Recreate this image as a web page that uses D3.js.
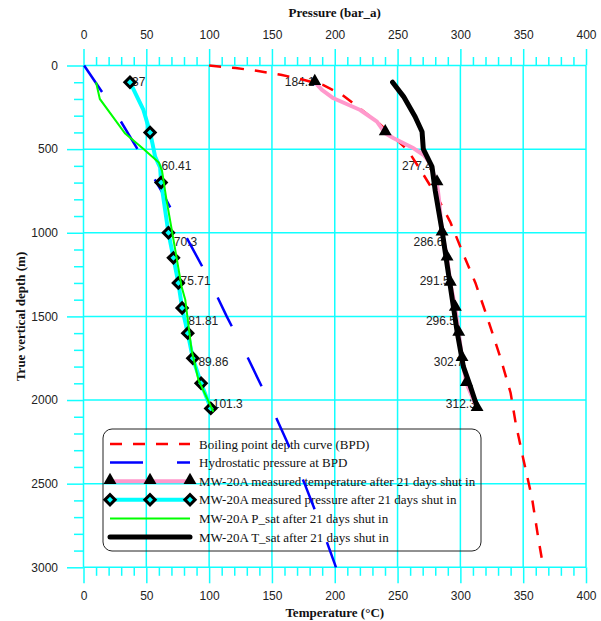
<!DOCTYPE html>
<html>
<head>
<meta charset="utf-8">
<script src="https://cdn.jsdelivr.net/npm/d3@7"></script>
<style>
  body { margin: 0; background: #fff; }
  svg { display: block; }
  .tick text { font-family: "Liberation Sans", Arial, sans-serif; font-size: 12px; fill: #222; }
  .title { font-family: "Liberation Serif", "Times New Roman", serif; font-weight: bold; font-size: 13px; fill: #111; }
  .dlabel { font-family: "Liberation Sans", Arial, sans-serif; font-size: 12px; fill: #222; }
  .legend text { font-family: "Liberation Serif", "Times New Roman", serif; font-size: 13px; fill: #111; }
</style>
</head>
<body>
<div id="chart"></div>
<script>
// axis ticks
const tempTicks = d3.range(0, 401, 50);
const tempMinor = d3.range(0, 401, 10).filter(v => v % 50 !== 0);
const depthTicks = d3.range(0, 3001, 500);
const depthMinor = d3.range(0, 3001, 100).filter(v => v % 500 !== 0);

// boiling point depth curve (temperature, depth)
const bpdDepth = [0, 15, 33, 55, 85, 117, 176, 263, 344, 505, 645, 792, 936, 1121, 1300, 1497, 1749, 1958, 2137, 2350, 2585, 2825, 3000];
const bpdTemp  = [100, 121, 139, 157, 175, 191, 206, 221, 235, 258, 270, 282, 292, 302, 312, 321, 332, 340, 344, 350, 357, 362, 366];

// hydrostatic pressure at BPD
const hydroDepth = [0, 250, 500, 750, 1000, 1250, 1500, 1750, 2000, 2250, 2500, 2750, 3000];
const hydroPres  = [0.5, 23, 43, 62, 80, 98, 114, 131, 147, 162, 176, 189, 201];

// measured points (markers)
const measDepth = [100, 400, 700, 1000, 1150, 1300, 1450, 1600, 1750, 1900, 2050];
const measTemp  = [184.1, 240.2, 281.4, 285.4, 289.4, 292, 296, 298.7, 301.3, 304.8, 313.3];
const measPres  = [37, 53, 61.8, 67.6, 71.6, 75.5, 78.5, 83, 87, 93.6, 101.3];

// measured temperature line
const tLineDepth = [100, 146, 196, 266, 336, 405, 435, 495, 535, 585, 665, 708, 800, 1000, 1150, 1300, 1450, 1600, 1750, 1900, 2050];
const tLineTemp  = [184.1, 189.8, 199, 220.3, 233.6, 240.2, 246.9, 262.8, 270.8, 276, 279.3, 281.4, 283, 285.4, 289.4, 292, 296, 298.7, 301.3, 304.8, 313.3];

// measured pressure line
const pLineDepth = [100, 266, 400, 470, 545, 610, 700, 1000, 1150, 1300, 1450, 1600, 1750, 1900, 2050];
const pLinePres  = [37, 47.7, 53, 55, 57, 61, 61.8, 67.6, 71.6, 75.5, 78.5, 83, 87, 93.6, 101.3];

// P_sat and T_sat
const psatDepth = [100, 200, 405, 500, 580, 630, 800, 1040, 1320, 1400, 1700, 1880, 2070];
const psatPres  = [10, 13, 33, 48, 60, 62.5, 66, 71.6, 78, 81, 86, 91.5, 103.4];
const tsatDepth = [100, 186, 306, 396, 500, 605, 750, 1000, 1200, 1400, 1600, 1800, 1920, 2045];
const tsatTemp  = [246, 254.8, 264, 269.5, 270.5, 277.4, 280, 285.7, 289.6, 293.6, 297.6, 302.4, 308, 313.5];

// data labels
const labelDepth = [100, 600, 1056, 1288, 1527, 1772, 2024];
const tempLabels = ["184.1", "277.4", "286.6", "291.5", "296.5", "302.7", "312.3"];
const presLabels = ["37", "60.41", "70.3", "75.71", "81.81", "89.86", "101.3"];

const legendItems = [
  "Boiling point depth curve (BPD)",
  "Hydrostatic pressure at BPD",
  "MW-20A measured temperature after 21 days shut in",
  "MW-20A measured pressure after 21 days shut in",
  "MW-20A P_sat after 21 days shut in",
  "MW-20A T_sat after 21 days shut in"
];

const W = 601, H = 621;
const GRID = "#1ff";
const x = d3.scaleLinear([0, 400], [83.5, 586]);
const y = d3.scaleLinear([0, 3000], [65.5, 567.3]);

const svg = d3.select("#chart").append("svg")
  .attr("width", W).attr("height", H);

// grid
const grid = svg.append("g");
grid.selectAll("line.v").data(tempTicks).join("line")
  .attr("x1", d => x(d)).attr("x2", d => x(d))
  .attr("y1", y(0)).attr("y2", y(3000))
  .attr("stroke", GRID).attr("stroke-width", 1.5);
grid.selectAll("line.h").data(depthTicks).join("line")
  .attr("x1", x(0)).attr("x2", x(400))
  .attr("y1", d => y(d)).attr("y2", d => y(d))
  .attr("stroke", GRID).attr("stroke-width", 1.5);

function styleAxis(g) {
  g.select(".domain").remove();
  g.selectAll(".tick line").attr("stroke", GRID).attr("stroke-width", 1.5);
}

svg.append("g").attr("transform", `translate(0,${y(0)})`)
  .call(d3.axisTop(x).tickValues(tempTicks).tickSize(16.5).tickPadding(10.5).tickFormat(d3.format("d")))
  .call(styleAxis);
svg.append("g").attr("transform", `translate(0,${y(0)})`)
  .call(d3.axisTop(x).tickValues(tempMinor).tickSize(8.5).tickFormat(""))
  .call(styleAxis);
svg.append("g").attr("transform", `translate(0,${y(3000)})`)
  .call(d3.axisBottom(x).tickValues(tempTicks).tickSize(16).tickPadding(8).tickFormat(d3.format("d")))
  .call(styleAxis);
svg.append("g").attr("transform", `translate(0,${y(3000)})`)
  .call(d3.axisBottom(x).tickValues(tempMinor).tickSize(8.5).tickFormat(""))
  .call(styleAxis);
svg.append("g").attr("transform", `translate(${x(0)},0)`)
  .call(d3.axisLeft(y).tickValues(depthTicks).tickSize(16.5).tickPadding(9).tickFormat(d3.format("d")))
  .call(styleAxis);
svg.append("g").attr("transform", `translate(${x(0)},0)`)
  .call(d3.axisLeft(y).tickValues(depthMinor).tickSize(9.5).tickFormat(""))
  .call(styleAxis);

// titles
svg.append("text").attr("class", "title")
  .attr("x", (x(0) + x(400)) / 2).attr("y", 17).attr("text-anchor", "middle")
  .text("Pressure (bar_a)");
svg.append("text").attr("class", "title")
  .attr("x", (x(0) + x(400)) / 2).attr("y", 617).attr("text-anchor", "middle")
  .text("Temperature (°C)");
svg.append("text").attr("class", "title")
  .attr("transform", `translate(25,${(y(0) + y(3000)) / 2}) rotate(-90)`)
  .attr("text-anchor", "middle")
  .text("True vertical depth (m)");

// data labels (drawn under the lines)
svg.append("g").selectAll("text").data(labelDepth).join("text")
  .attr("class", "dlabel")
  .attr("x", (d, i) => x(+tempLabels[i]))
  .attr("y", d => y(d)).attr("dy", "0.35em")
  .attr("text-anchor", "end")
  .text((d, i) => tempLabels[i]);
svg.append("g").selectAll("text").data(labelDepth).join("text")
  .attr("class", "dlabel")
  .attr("x", (d, i) => x(+presLabels[i]) + 2)
  .attr("y", d => y(d)).attr("dy", "0.35em")
  .text((d, i) => presLabels[i]);

// legend
const lg = svg.append("g").attr("class", "legend");
lg.append("rect").attr("x", 103).attr("y", 429).attr("width", 378).attr("height", 122)
  .attr("rx", 9).attr("fill", "none").attr("stroke", "#222").attr("stroke-width", 1);
const rowY = i => 444 + i * 18.6;
lg.selectAll("text").data(legendItems).join("text")
  .attr("x", 199).attr("y", (d, i) => rowY(i)).attr("dy", "0.35em")
  .text(d => d);

const line = d3.line();
const triangle = d3.symbol(d3.symbolTriangle, 72);
const diamond = d3.symbol(d3.symbolSquare, 52);

function drawTri(g, pts) {
  g.selectAll("path.tri").data(pts).join("path").attr("class", "tri")
    .attr("d", triangle)
    .attr("transform", d => `translate(${d[0]},${d[1] - 1})`)
    .attr("fill", "#000");
}
function drawDia(g, pts) {
  g.selectAll("path.dia").data(pts).join("path").attr("class", "dia")
    .attr("d", diamond)
    .attr("transform", d => `translate(${d[0]},${d[1]}) rotate(45)`)
    .attr("fill", "#0ff").attr("stroke", "#000").attr("stroke-width", 3);
}

// legend samples
lg.append("path").attr("d", line([[110, rowY(0)], [190, rowY(0)]]))
  .attr("stroke", "#f00").attr("stroke-width", 2.5).attr("fill", "none").attr("stroke-dasharray", "12,11");
lg.append("path").attr("d", line([[110, rowY(1)], [190, rowY(1)]]))
  .attr("stroke", "#00f").attr("stroke-width", 2.5).attr("fill", "none").attr("stroke-dasharray", "33,34");
lg.append("path").attr("d", line([[110, rowY(2)], [190, rowY(2)]]))
  .attr("stroke", "#f9c").attr("stroke-width", 4).attr("fill", "none");
drawTri(lg.append("g"), [110, 150, 190].map(v => [v, rowY(2)]));
lg.append("path").attr("d", line([[110, rowY(3)], [190, rowY(3)]]))
  .attr("stroke", "#0ff").attr("stroke-width", 4).attr("fill", "none");
drawDia(lg.append("g"), [110, 150, 190].map(v => [v, rowY(3)]));
lg.append("path").attr("d", line([[110, rowY(4)], [190, rowY(4)]]))
  .attr("stroke", "#0f0").attr("stroke-width", 2).attr("fill", "none");
lg.append("path").attr("d", line([[110, rowY(5)], [190, rowY(5)]]))
  .attr("stroke", "#000").attr("stroke-width", 5).attr("stroke-linecap", "round").attr("fill", "none");

// data lines
const plot = svg.append("g");
plot.append("path")
  .attr("d", line(bpdDepth.map((d, i) => [x(bpdTemp[i]), y(d)])))
  .attr("fill", "none").attr("stroke", "#f00").attr("stroke-width", 2.5).attr("stroke-dasharray", "12,11");
plot.append("path")
  .attr("d", line(hydroDepth.map((d, i) => [x(hydroPres[i]), y(d)])))
  .attr("fill", "none").attr("stroke", "#00f").attr("stroke-width", 2.5).attr("stroke-dasharray", "32,35");

plot.append("path")
  .attr("d", line(tLineDepth.map((d, i) => [x(tLineTemp[i]), y(d)])))
  .attr("fill", "none").attr("stroke", "#f9c").attr("stroke-width", 4).attr("stroke-linejoin", "round");
drawTri(plot.append("g"), measDepth.map((d, i) => [x(measTemp[i]), y(d)]));

plot.append("path")
  .attr("d", line(pLineDepth.map((d, i) => [x(pLinePres[i]), y(d)])))
  .attr("fill", "none").attr("stroke", "#0ff").attr("stroke-width", 4).attr("stroke-linejoin", "round");
drawDia(plot.append("g"), measDepth.map((d, i) => [x(measPres[i]), y(d)]));

plot.append("path")
  .attr("d", line(psatDepth.map((d, i) => [x(psatPres[i]), y(d)])))
  .attr("fill", "none").attr("stroke", "#0f0").attr("stroke-width", 2);
plot.append("path")
  .attr("d", line(tsatDepth.map((d, i) => [x(tsatTemp[i]), y(d)])))
  .attr("fill", "none").attr("stroke", "#000").attr("stroke-width", 5)
  .attr("stroke-linecap", "round").attr("stroke-linejoin", "round");
</script>
</body>
</html>
